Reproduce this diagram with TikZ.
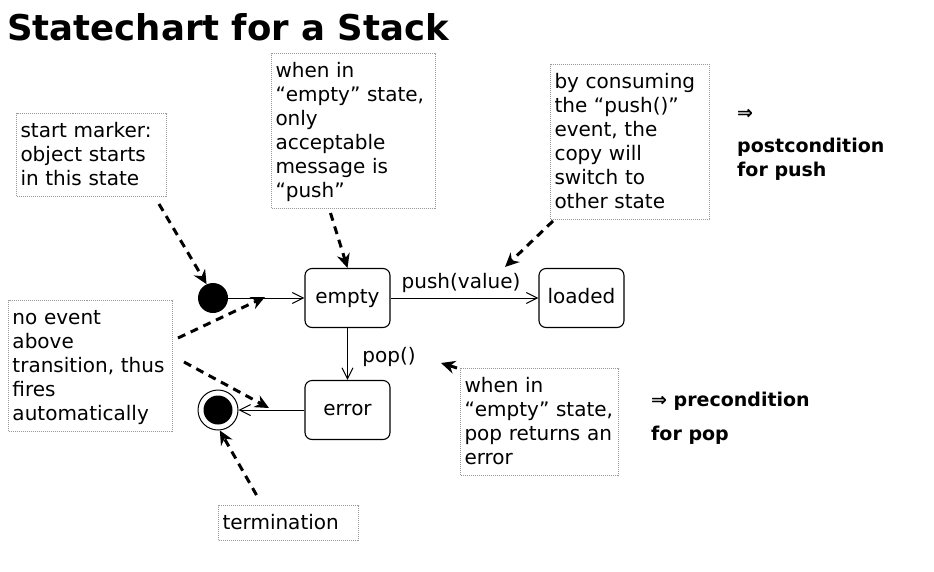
\documentclass[tikz,border=0pt]{standalone}
\usepackage{fontspec}
\setmainfont{DejaVu Sans}
\usepackage{tikz}
\usetikzlibrary{arrows.meta}
\newcommand{\nfont}{\fontsize{20}{24}\selectfont}
\newcommand{\bfont}{\fontsize{19}{23}\selectfont\bfseries}

\begin{document}
\begin{tikzpicture}[x=1pt,y=-1pt,
	state/.style={draw,rounded corners=7pt,minimum width=85pt,minimum height=59pt,line width=1.1pt,font=\nfont,text height=13pt,text depth=3pt},
	note/.style={draw=gray!80,densely dotted,line width=1pt,anchor=north west,align=left,inner xsep=4pt,inner ysep=4pt,font=\nfont,execute at begin node={\rule{0pt}{19.8pt}},execute at end node=\strut},
	trans/.style={line width=1pt,-{Straight Barb[length=11pt,width=11pt]}},
	hint/.style={line width=3pt,dash pattern=on 8pt off 6pt,-{Stealth[length=14pt,width=13pt]}}]
	\useasboundingbox (0,0) rectangle (934,571);
	\node[anchor=base west,inner sep=0,font=\fontsize{35.5}{40}\selectfont\bfseries] (title) at (7,40) {Statechart for a Stack};
	% states
	\node[circle,fill,minimum size=30pt,inner sep=0] (init) at (213,298) {};
	\node[state] (empty) at (347.5,298) {empty};
	\node[state] (loaded) at (581.5,298) {loaded};
	\node[state] (error) at (347.5,410) {error};
	\node[circle,draw,line width=1pt,minimum size=40pt,inner sep=0,
		path picture={\fill (path picture bounding box.center) circle (14.5pt);}] (final) at (218,410) {};
	\node[font=\nfont] (pushlbl) at (461,283) {push(value)};
	\node[font=\nfont] (poplbl) at (389,357) {pop()};
	\draw[trans] (init) -- (empty);
	\draw[trans] (empty) -- (loaded);
	\draw[trans] (empty) -- (error);
	\draw[trans] (error) -- (final);
	% notes
	\node[note,text width=142pt] (startnote) at (16,113) {start marker:\\object starts\\in this state};
	\node[note,text width=156pt] (whennote) at (271,53) {when in\\“empty” state,\\only\\acceptable\\message is\\“push”};
	\node[note,text width=151pt] (consnote) at (550,64) {by consuming\\the “push()”\\event, the\\copy will\\switch to\\other state};
	\node[note,text width=156pt] (noevnote) at (8,300) {no event\\above\\transition, thus\\fires\\automatically};
	\node[note,text width=150pt] (popnote) at (460,368) {when in\\“empty” state,\\pop returns an\\error};
	\node[note,text width=132pt] (termnote) at (218,505) {termination};
	\node[anchor=base west,inner sep=0,font=\bfont] (postarr) at (737,119) {⇒};
	\node[anchor=base west,inner sep=0,font=\bfont] (post) at (737,152.5) {postcondition};
	\node[anchor=base west,inner sep=0,font=\bfont] (postb) at (737,176) {for push};
	\node[anchor=base west,inner sep=0,font=\bfont] (pre) at (651,406.5) {⇒ precondition};
	\node[anchor=base west,inner sep=0,font=\bfont] (preb) at (651,440.5) {for pop};
	% comment arrows
	\coordinate (t1tip) at (265,297);
	\coordinate (t4tip) at (269,408);
	\coordinate (pushtip) at (505,267);
	\coordinate (poptip) at (441,363);
	\draw[hint] ([shift={(-8,7)}]startnote.south east) -- (init.115);
	\draw[hint] ([shift={(-23,4)}]whennote.south) -- (empty.north);
	\draw[hint] ([shift={(3,1)}]consnote.south west) -- (pushtip);
	\draw[hint] ([shift={(5,38)}]noevnote.north east) -- (t1tip);
	\draw[hint] ([shift={(11,62)}]noevnote.north east) -- (t4tip);
	\draw[hint] ([shift={(-32,-10)}]termnote.north) -- (final.-85);
	\draw[hint] ([shift={(-3,0)}]popnote.north west) -- (poptip);
\end{tikzpicture}
\end{document}
